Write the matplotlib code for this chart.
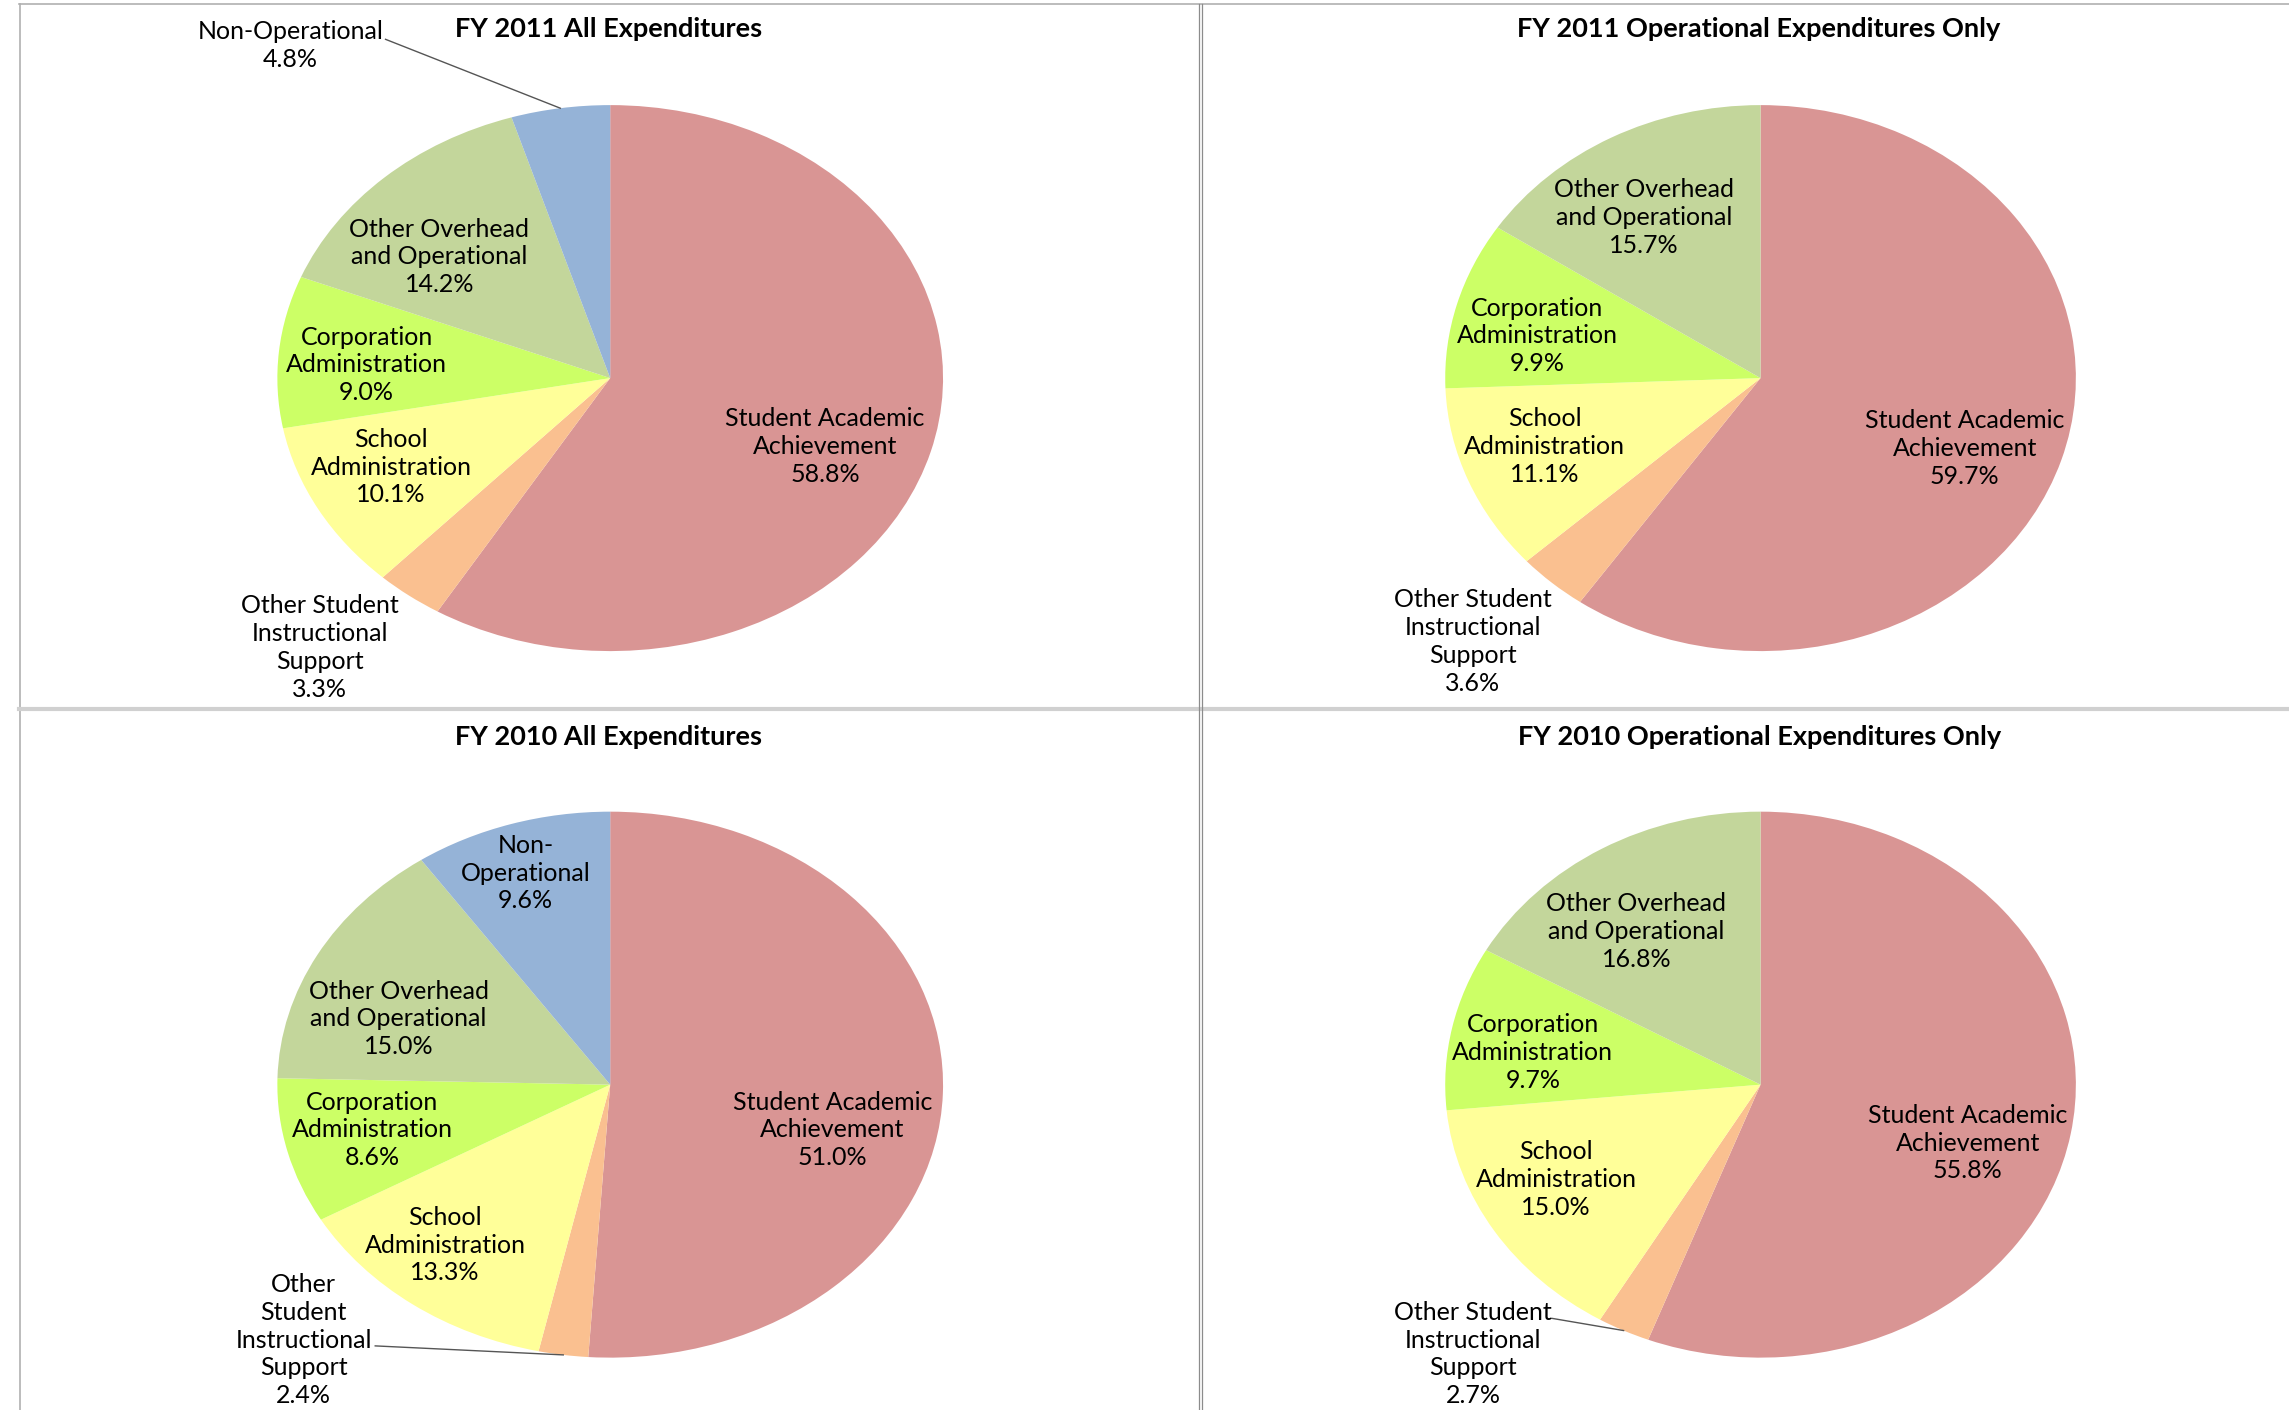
import matplotlib
matplotlib.use("Agg")
import matplotlib.pyplot as plt
from matplotlib.lines import Line2D
import numpy as np

# ---------------- data ----------------
categories = ["Student Academic Achievement", "Other Student Instructional Support",
              "School Administration", "Corporation Administration",
              "Other Overhead and Operational", "Non-Operational"]
fy2011_all = [58.8, 3.3, 10.1, 9.0, 14.2, 4.8]
fy2011_op = [59.7, 3.6, 11.1, 9.9, 15.7]
fy2010_all = [51.0, 2.4, 13.3, 8.6, 15.0, 9.6]
fy2010_op = [55.8, 2.7, 15.0, 9.7, 16.8]
titles = ["FY 2011 All Expenditures", "FY 2011 Operational Expenditures Only",
          "FY 2010 All Expenditures", "FY 2010 Operational Expenditures Only"]

# ---------------- style ----------------
colors = ["#D99594", "#FAC090", "#FFFF99", "#CCFF66", "#C3D69B", "#95B3D7"]
plt.rcParams["font.family"] = ["Lato", "DejaVu Sans"]

W, H = 2289, 1410
fig = plt.figure(figsize=(W / 100, H / 100), dpi=100)

S = W / 1568.0  # scale from shrunk coords

def fx(x):
    return x * S / W

def fy(y):
    return 1 - y * S / H

# wrapped label names per panel
wrap_std = ["Student Academic\nAchievement", "Other Student\nInstructional\nSupport",
            "School\nAdministration", "Corporation\nAdministration",
            "Other Overhead\nand Operational", "Non-Operational"]
wrap_bl = ["Student Academic\nAchievement", "Other\nStudent\nInstructional\nSupport",
           "School\nAdministration", "Corporation\nAdministration",
           "Other Overhead\nand Operational", "Non-\nOperational"]

# panel layout: (cx, cy, rx, ry) in shrunk px, title pos
panels = [
    dict(vals=fy2011_all, box=(418, 259, 228, 187), title_xy=(417, 20), wrap=wrap_std,
         lpos=[(0.645, -0.251), (-0.873, -0.987), (-0.658, -0.326), (-0.732, 0.048),
               (-0.513, 0.444), (-0.96, 1.219)],
         leader={5: (-0.675, 1.241)}),
    dict(vals=fy2011_op, box=(1206, 259, 216, 187), title_xy=(1205, 20), wrap=wrap_std,
         lpos=[(0.648, -0.257), (-0.912, -0.965), (-0.685, -0.251), (-0.708, 0.155),
               (-0.370, 0.588)],
         leader={}),
    dict(vals=fy2010_all, box=(418, 743, 228, 187), title_xy=(417, 505), wrap=wrap_bl,
         lpos=[(0.667, -0.166), (-0.921, -0.936), (-0.496, -0.588), (-0.715, -0.166),
               (-0.636, 0.241), (-0.254, 0.775)],
         leader={1: (-0.706, -0.957)}),
    dict(vals=fy2010_op, box=(1206, 743, 216, 187), title_xy=(1205, 505), wrap=wrap_std,
         lpos=[(0.657, -0.214), (-0.912, -0.987), (-0.648, -0.348), (-0.722, 0.118),
               (-0.394, 0.561)],
         leader={1: (-0.662, -0.856)}),
]

label_fs = 18
title_fs = 19.5

for p, title in zip(panels, titles):
    cx, cy, rx, ry = p["box"]
    ax = fig.add_axes([fx(cx - rx), fy(cy + ry), fx(2 * rx), (2 * ry) * S / H])
    vals = p["vals"]
    ax.pie(vals, colors=colors[:len(vals)], startangle=90, counterclock=False,
           wedgeprops=dict(linewidth=0))
    ax.set_aspect("auto")
    ax.set_xlim(-1, 1)
    ax.set_ylim(-1, 1)
    ax.axis("off")
    total = sum(vals)
    cum = 0.0
    for i, v in enumerate(vals):
        mid = 90 - 360 * (cum + v / 2) / total
        cum += v
        lx, ly = p["lpos"][i]
        ax.text(lx, ly, f"{p['wrap'][i]}\n{v:.1f}%", ha="center", va="center",
                fontsize=label_fs, color="black", linespacing=1.25)
        if i in p["leader"]:
            sx, sy = p["leader"][i]
            ex, ey = np.cos(np.radians(mid)), np.sin(np.radians(mid))
            ax.add_line(Line2D([sx, ex], [sy, ey], color="#555555", lw=1.0,
                               clip_on=False))
    tx, ty = p["title_xy"]
    fig.text(fx(tx), fy(ty), title, ha="center", va="center", fontsize=title_fs,
             fontweight="bold", color="black")

# panel border lines (figure pixel coords)
def hline(y, x0, x1, c, lw):
    fig.add_artist(Line2D([x0 / W, x1 / W], [1 - y / H, 1 - y / H], color=c, lw=lw))

def vline(x, y0, y1, c, lw):
    fig.add_artist(Line2D([x / W, x / W], [1 - y0 / H, 1 - y1 / H], color=c, lw=lw))

hline(4, 19, W, "#B0B0B0", 1.2)
vline(19.5, 4, H, "#B0B0B0", 1.2)
hline(709, 19, W, "#D0D0D0", 3.0)
vline(1199, 4, H, "#8C8C8C", 0.9)
vline(1202, 4, H, "#8C8C8C", 0.9)

fig.savefig("out.png", dpi=100)
